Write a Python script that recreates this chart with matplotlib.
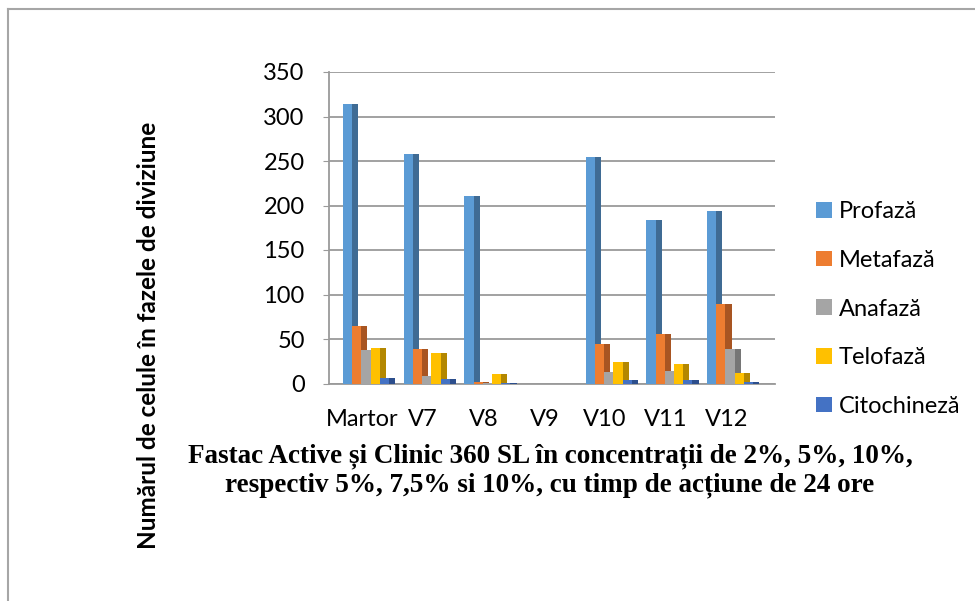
import numpy as np
import matplotlib.pyplot as plt
from matplotlib.patches import Patch

categorii = ["Martor", "V7", "V8", "V9", "V10", "V11", "V12"]
faze = ["Profază", "Metafază", "Anafază", "Telofază", "Citochineză"]

profaza = [314, 258, 211, 0, 254, 184, 194]
metafaza = [65, 39, 2, 0, 44, 56, 89]
anafaza = [38, 8, 1, 0, 13, 14, 39]
telofaza = [40, 34, 11, 0, 24, 22, 12]
citochineza = [6, 5, 1, 0, 4, 4, 2]

# front colour, dark side colour
culori = [("#5B9BD5", "#3F6B94"), ("#ED7D31", "#A85522"), ("#A5A5A5", "#767676"),
          ("#FFC000", "#B38700"), ("#4472C4", "#2C4E8C")]

sans = ["Lato", "DejaVu Sans"]

fig = plt.figure(figsize=(9.75, 6.01), dpi=100)
ax = fig.add_axes([329 / 975, 1 - 383.5 / 601, 446 / 975, 311.5 / 601])

x = np.arange(len(categorii))
w = 0.152      # front face
d = 0.10       # dark side
start = -0.32

serii = [profaza, metafaza, anafaza, telofaza, citochineza]
for i, vals in enumerate(serii):
    left = x + start + i * w
    ax.bar(left + w, vals, width=d, align="edge", color=culori[i][1], zorder=2 + 2 * i, linewidth=0)
    ax.bar(left, vals, width=w, align="edge", color=culori[i][0], zorder=3 + 2 * i, linewidth=0)

ax.set_xlim(-0.55, 6.8)
ax.set_ylim(0, 350)
ax.set_yticks(range(0, 351, 50))
ax.set_xticks(x)
ax.set_xticklabels(categorii)
ax.yaxis.grid(True, color="#9A9A9A", linewidth=1.3, zorder=0)
ax.set_axisbelow(True)
for s in ["top", "right"]:
    ax.spines[s].set_visible(False)
ax.spines["left"].set_color("#9A9A9A")
ax.spines["bottom"].set_color("#9A9A9A")
ax.spines["left"].set_linewidth(1.3)
ax.spines["bottom"].set_linewidth(1.3)
ax.tick_params(axis="y", length=4.5, color="#9A9A9A", pad=13, labelsize=17)
ax.tick_params(axis="x", length=0, pad=18, labelsize=17)
for t in ax.get_xticklabels() + ax.get_yticklabels():
    t.set_family(sans)

fig.text(149 / 975, 1 - 335 / 601, "Numărul de celule în fazele de diviziune", rotation=90,
         ha="center", va="center", fontsize=17.5, fontweight="bold", family=sans)

fig.text(550 / 975, 1 - 471 / 601,
         "Fastac Active și Clinic 360 SL în concentrații de 2%, 5%, 10%,\n"
         "respectiv 5%, 7,5% si 10%, cu timp de acțiune de 24 ore",
         ha="center", va="center", fontsize=19.5, fontweight="bold",
         family=["Liberation Serif", "DejaVu Serif"], linespacing=1.2)

handles = [Patch(facecolor=c[0]) for c in culori]
fig.legend(handles, faze, loc="center left", bbox_to_anchor=(807 / 975, 1 - 309 / 601),
           frameon=False, prop={"family": sans, "size": 17}, handlelength=0.65, handleheight=0.65,
           handletextpad=0.3, labelspacing=1.17, borderaxespad=0)

# chart area border (left and top only visible)
fig.add_artist(plt.Line2D([8 / 975, 8 / 975], [0, 1 - 9 / 601], color="#A6A6A6", linewidth=1.5,
                          transform=fig.transFigure))
fig.add_artist(plt.Line2D([8 / 975, 1], [1 - 9 / 601, 1 - 9 / 601], color="#A6A6A6", linewidth=1.5,
                          transform=fig.transFigure))

fig.savefig("out.png", dpi=100)
